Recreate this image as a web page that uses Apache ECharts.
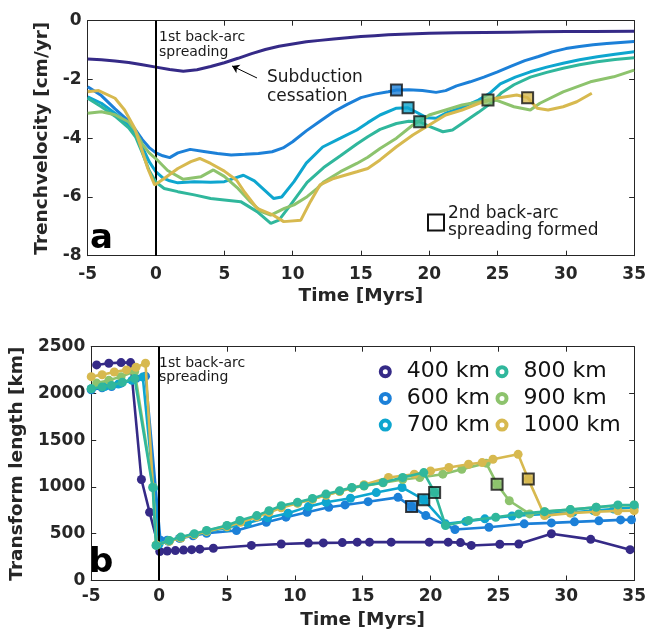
<!DOCTYPE html>
<html><head><meta charset="utf-8">
<script src="https://cdn.jsdelivr.net/npm/echarts@6/dist/echarts.min.js"></script>
<style>html,body{margin:0;padding:0;background:#fff}#c{width:649px;height:631px}</style>
</head><body><div id="c"></div>
<script>
// ---------- DATA ----------
const seriesNames = ['400 km','600 km','700 km','800 km','900 km','1000 km'];
const colors = ['#352a87','#1c80d8','#0ea6cf','#30b79c','#8dc36d','#d7b94f'];
const xTicks = { min: -5, max: 35, interval: 5 };

// Panel a: trench velocity [cm/yr] vs time [Myrs]
const vel400 = [[-5,-1.30],[-4,-1.33],[-3,-1.37],[-2,-1.42],[-1,-1.50],[0,-1.58],[1,-1.66],[2,-1.72],[3,-1.67],[4,-1.56],[5,-1.43],[6,-1.28],[7,-1.12],[8,-0.98],[9,-0.87],[10,-0.79],[11,-0.72],[12,-0.67],[13,-0.62],[14,-0.58],[15,-0.54],[16,-0.51],[17,-0.48],[18,-0.46],[20,-0.43],[22,-0.41],[24,-0.40],[26,-0.39],[28,-0.38],[30,-0.37],[32,-0.37],[35,-0.36]];
const vel600 = [[-5,-2.25],[-4,-2.55],[-3,-3.0],[-2,-3.42],[-1.5,-3.72],[-1,-4.05],[-0.5,-4.32],[0,-4.5],[0.5,-4.6],[1,-4.66],[1.6,-4.5],[2.5,-4.38],[3.5,-4.45],[4.5,-4.52],[5.5,-4.57],[6.5,-4.55],[7.5,-4.52],[8.5,-4.46],[9.3,-4.33],[10,-4.12],[11,-3.75],[12,-3.42],[13,-3.1],[14,-2.85],[15,-2.62],[16,-2.5],[17,-2.42],[17.6,-2.36],[18.5,-2.35],[19.5,-2.38],[20.5,-2.44],[21.2,-2.38],[22,-2.22],[23,-2.08],[24,-1.92],[25,-1.74],[26,-1.55],[27,-1.36],[28,-1.22],[29,-1.06],[30,-0.95],[31,-0.88],[32,-0.82],[33,-0.78],[34,-0.74],[35,-0.71]];
const vel700 = [[-5,-2.59],[-4,-2.81],[-3,-3.15],[-2,-3.55],[-1.5,-3.85],[-1,-4.3],[-0.5,-4.8],[0,-5.15],[0.5,-5.35],[1,-5.45],[1.6,-5.52],[2.8,-5.48],[4,-5.5],[5,-5.48],[5.7,-5.37],[6.4,-5.26],[7.2,-5.45],[7.9,-5.75],[8.6,-6.05],[9.2,-6.0],[10.1,-5.48],[11,-4.85],[12.2,-4.3],[13.5,-4.0],[14.7,-3.72],[15.5,-3.47],[16.4,-3.21],[17.6,-2.98],[18.4,-2.96],[19,-3.1],[19.8,-3.3],[20.5,-3.32],[21.2,-3.15],[22.4,-2.95],[23.6,-2.7],[24.4,-2.48],[25.2,-2.15],[26.3,-1.92],[27.4,-1.74],[28.6,-1.58],[29.8,-1.45],[31,-1.33],[32.3,-1.23],[33.6,-1.14],[35,-1.06]];
const vel800 = [[-5,-2.64],[-4,-2.93],[-3,-3.25],[-2,-3.65],[-1.5,-3.95],[-1,-4.5],[-0.5,-5.1],[0,-5.5],[0.6,-5.71],[1.6,-5.82],[2.8,-5.93],[4,-6.05],[5,-6.1],[6.2,-6.16],[7.4,-6.5],[8.4,-6.9],[9.0,-6.79],[9.85,-6.27],[11.06,-5.5],[12.27,-5.0],[13.5,-4.6],[14.7,-4.2],[15.5,-3.95],[16.4,-3.7],[17.6,-3.5],[18.5,-3.42],[19.3,-3.44],[20,-3.6],[21,-3.78],[21.7,-3.72],[22.4,-3.5],[23.6,-3.12],[24.6,-2.78],[25.3,-2.45],[26.2,-2.18],[27.4,-1.92],[28.6,-1.76],[29.8,-1.62],[31,-1.5],[32.3,-1.40],[33.6,-1.32],[35,-1.26]];
const vel900 = [[-5,-3.15],[-4,-3.1],[-3,-3.2],[-2,-3.45],[-1.5,-3.75],[-1,-4.2],[-0.5,-4.5],[0,-4.7],[0.85,-5.1],[2.0,-5.4],[3.3,-5.31],[4.2,-5.08],[5,-5.3],[6,-5.71],[6.9,-6.16],[7.7,-6.5],[8.4,-6.62],[9.4,-6.39],[10.1,-6.27],[11.06,-5.99],[11.8,-5.71],[12.3,-5.48],[13.5,-5.14],[14.7,-4.86],[15.5,-4.65],[16.4,-4.35],[17.6,-4.0],[18.8,-3.55],[20,-3.21],[21.2,-3.04],[22.4,-2.87],[23.4,-2.78],[24.3,-2.70],[25,-2.72],[26.2,-2.93],[27.4,-3.04],[28.1,-2.81],[29.8,-2.42],[31.8,-2.08],[33.5,-1.91],[35,-1.68]];
const vel1000 = [[-5,-2.42],[-4.2,-2.38],[-3,-2.64],[-2.3,-3.04],[-1.56,-3.66],[-1.07,-4.35],[-0.6,-5.03],[-0.1,-5.59],[0.6,-5.37],[1.6,-5.03],[2.55,-4.8],[3.2,-4.69],[4,-4.86],[5,-5.12],[5.9,-5.43],[6.5,-5.85],[7.4,-6.39],[8.5,-6.6],[9.35,-6.84],[10.6,-6.79],[11.3,-6.16],[12.0,-5.59],[13.0,-5.37],[14.7,-5.14],[15.5,-5.03],[16.4,-4.74],[17.6,-4.29],[18.8,-3.89],[20,-3.55],[21.2,-3.21],[22.4,-3.04],[23.65,-2.81],[24.9,-2.64],[26.4,-2.53],[27.2,-2.62],[27.9,-2.98],[28.7,-3.04],[29.8,-2.93],[30.8,-2.76],[31.9,-2.47]];

// 2nd back-arc spreading formed (squares), series 600..1000
const sqTopTime = [17.6, 18.45, 19.3, 24.3, 27.2];
const sqTopVel  = [-2.36, -2.96, -3.44, -2.70, -2.62];
const sqBotTime = [18.6, 19.5, 20.3, 24.9, 27.2];
const sqBotLen  = [790, 864, 942, 1030, 1084];

// Panel b: transform length [km] vs time [Myrs]
const len400 = [[-4.6,2305],[-3.7,2323],[-2.8,2330],[-2.1,2330],[-1.3,1080],[-0.7,730],[0.05,310],[0.6,315],[1.2,320],[1.8,325],[2.4,330],[3.0,335],[4.0,345],[6.8,375],[9.0,390],[11.0,400],[12.1,402],[13.5,405],[14.6,410],[15.5,410],[17.1,410],[19.9,410],[21.3,410],[22.2,405],[23.0,375],[25.1,388],[26.5,390],[28.9,500],[31.8,440],[34.7,330]];
const len600 = [[-5,2040],[-4.2,2060],[-3.5,2075],[-2.8,2110],[-1.7,2160],[-1.0,2185],[0.1,430],[0.6,430],[1.5,450],[2.5,478],[3.5,505],[5.7,534],[7.9,623],[9.35,677],[10.9,730],[12.5,783],[13.7,808],[15.4,843],[17.6,889],[18.6,790],[19.65,694],[21.8,545],[24.3,570],[26.9,606],[28.9,616],[30.6,627],[32.4,638],[34.0,648],[34.8,650]];
const len700 = [[-5,2050],[-4,2075],[-3,2100],[-2,2140],[-1.2,2175],[-0.4,990],[0,390],[0.7,420],[1.6,455],[2.6,490],[3.5,520],[5,565],[6.5,615],[8,670],[9.5,720],[11,790],[12.3,836],[14.1,880],[16,940],[17.9,995],[19.5,864],[21.1,606],[22.6,630],[24,659],[26,690],[28.6,712],[30.5,730],[32,747],[33.5,765],[35,783]];
const len800 = [[-5,2050],[-4.2,2070],[-3.5,2085],[-2.7,2120],[-1.8,2160],[-0.47,995],[-0.23,375],[0.75,428],[1.6,464],[2.6,500],[3.5,535],[5.0,588],[5.95,641],[7.2,694],[8.1,747],[9.0,800],[10.2,836],[11.3,878],[12.3,924],[13.3,959],[14.2,995],[15.1,1013],[16.5,1048],[17.95,1101],[19.5,1154],[20.3,942],[21.1,588],[22.8,641],[24.8,676],[26.5,712],[28.4,736],[30.3,758],[32.2,783],[33.8,808],[35,808]];
const len900 = [[-4.6,2111],[-3.7,2140],[-2.8,2180],[-1.8,2235],[-0.45,1000],[-0.2,380],[0.75,425],[1.6,460],[2.6,495],[3.5,530],[5,585],[6,630],[7.2,688],[8.1,740],[9,790],[10.2,830],[11.3,872],[12.3,915],[13.3,955],[14.2,990],[15.1,1010],[16.5,1045],[17.95,1080],[19.2,1101],[20.9,1137],[22.3,1190],[24.1,1255],[24.9,1030],[25.8,853],[27.3,712],[28.4,736],[30.3,758],[32.2,783],[33.8,800],[35,808]];
const len1000 = [[-5,2180],[-4.2,2200],[-3.3,2230],[-2.4,2252],[-1.7,2280],[-1.0,2323],[-0.2,380],[0.75,420],[1.6,455],[2.6,490],[3.5,525],[5,575],[6,622],[7.2,680],[8.1,728],[9,778],[10.2,825],[11.3,868],[12.3,912],[13.3,952],[14.2,990],[15.1,1025],[16.9,1101],[18.8,1137],[20,1172],[21.35,1208],[22.8,1243],[23.8,1261],[24.6,1296],[26.45,1349],[27.2,1084],[28.4,694],[30.3,720],[32.2,735],[33.8,745],[35,747]];

const velData = [vel400, vel600, vel700, vel800, vel900, vel1000];
const lenData = [len400, len600, len700, len800, len900, len1000];

// ---------- CHART ----------
const FONT = 'DejaVu Sans';
const INK = '#262626';
const chart = echarts.init(document.getElementById('c'), null, { renderer: 'canvas' });

function xAx(grid, pos, showLabel, name, nameGap, margin) {
  return {
    type: 'value', gridIndex: grid, position: pos, min: xTicks.min, max: xTicks.max, interval: xTicks.interval,
    name: name || '', nameLocation: 'middle', nameGap: nameGap || 0,
    nameTextStyle: { fontFamily: FONT, fontWeight: 'bold', fontSize: 18.5, color: INK },
    axisLine: { show: true, onZero: false, lineStyle: { color: INK, width: 1 } },
    axisTick: { show: true, inside: true, length: 5, lineStyle: { color: INK } },
    axisLabel: { show: showLabel, fontFamily: FONT, fontWeight: 'bold', fontSize: 17, color: INK, margin: margin || 8,
      formatter: v => String(v) },
    splitLine: { show: false }
  };
}
function yAx(grid, pos, showLabel, min, max, interval, name, nameGap) {
  return {
    type: 'value', gridIndex: grid, position: pos, min: min, max: max, interval: interval,
    name: name || '', nameLocation: 'middle', nameGap: nameGap || 0, nameRotate: 90,
    nameTextStyle: { fontFamily: FONT, fontWeight: 'bold', fontSize: 18.5, color: INK },
    axisLine: { show: true, onZero: false, lineStyle: { color: INK, width: 1 } },
    axisTick: { show: true, inside: true, length: 5, lineStyle: { color: INK } },
    axisLabel: { show: showLabel, fontFamily: FONT, fontWeight: 'bold', fontSize: 17, color: INK, margin: 6,
      formatter: v => String(v) },
    splitLine: { show: false }
  };
}

const series = [];
// top panel lines
velData.forEach((d, i) => {
  series.push({
    name: seriesNames[i], type: 'line', xAxisIndex: 0, yAxisIndex: 0, data: d,
    showSymbol: false, symbol: 'none', lineStyle: { width: 3, color: colors[i] },
    itemStyle: { color: colors[i] }, z: 2 + i
  });
});
// arrow "Subduction cessation"
series[0].markLine = {
  silent: true, symbol: ['none', 'arrow'], symbolSize: 7, label: { show: false },
  lineStyle: { color: '#000', width: 1, type: 'solid' },
  data: [[{ coord: [7.39, -1.95] }, { coord: [5.57, -1.54] }]]
};
series[5].markLine = {
  silent: true, symbol: 'none', label: { show: false },
  lineStyle: { color: '#000', width: 2, type: 'solid' }, data: [{ xAxis: 0 }]
};
// top squares
series.push({
  name: 'sqTop', type: 'scatter', xAxisIndex: 0, yAxisIndex: 0, symbol: 'rect', symbolSize: 11, z: 20,
  data: sqTopTime.map((t, k) => ({ value: [t, sqTopVel[k]], itemStyle: { color: colors[k + 1], borderColor: '#111', borderWidth: 2 } }))
});
// bottom panel lines (draw order with teal on top)
const botOrder = [0, 1, 2, 4, 5, 3];
botOrder.forEach((i, k) => {
  series.push({
    name: seriesNames[i], type: 'line', xAxisIndex: 2, yAxisIndex: 2, data: lenData[i],
    symbol: 'circle', symbolSize: 9, showSymbol: true,
    lineStyle: { width: 2.6, color: colors[i] }, itemStyle: { color: colors[i] }, z: 2 + k,
    markLine: (k === botOrder.length - 1) ? {
      silent: true, symbol: 'none', label: { show: false },
      lineStyle: { color: '#000', width: 2, type: 'solid' }, data: [{ xAxis: 0 }]
    } : undefined
  });
});
series.push({
  name: 'sqBot', type: 'scatter', xAxisIndex: 2, yAxisIndex: 2, symbol: 'rect', symbolSize: 11, z: 20,
  data: sqBotTime.map((t, k) => ({ value: [t, sqBotLen[k]], itemStyle: { color: colors[k + 1], borderColor: '#111', borderWidth: 2 } }))
});

function legendItems(idx) {
  return idx.map(i => ({ name: seriesNames[i], icon: 'circle',
    itemStyle: { color: '#fff', borderColor: colors[i], borderWidth: 4 } }));
}
const legendCommon = {
  orient: 'vertical', itemWidth: 9, itemHeight: 9, itemGap: 4.7, padding: 0, selectedMode: false,
  textStyle: { fontFamily: FONT, fontSize: 22, color: '#111', lineHeight: 22, padding: [0, 0, 0, 12] }
};

const option = {
  animation: false,
  textStyle: { fontFamily: FONT },
  grid: [
    { left: 87.7, top: 20.7, width: 550, height: 235 },
    { left: 87.7, top: 346.7, width: 550, height: 235.3 }
  ],
  xAxis: [
    xAx(0, 'bottom', true, 'Time [Myrs]', 31, 10),
    xAx(0, 'top', false),
    xAx(1, 'bottom', true, 'Time [Myrs]', 30.5, 8),
    xAx(1, 'top', false)
  ],
  yAxis: [
    yAx(0, 'left', true, -8, 0, 2, 'Trenchvelocity [cm/yr]', 33),
    yAx(0, 'right', false, -8, 0, 2),
    yAx(1, 'left', true, 0, 2500, 500, 'Transform length [km]', 59),
    yAx(1, 'right', false, 0, 2500, 500)
  ],
  legend: [
    Object.assign({}, legendCommon, { left: 378.8, top: 360.7, data: legendItems([0, 1, 2]) }),
    Object.assign({}, legendCommon, { left: 495.5, top: 360.7, data: legendItems([3, 4, 5]) })
  ],
  graphic: [
    { type: 'text', left: 159, top: 30.5, style: { text: '1st back-arc\nspreading', fontFamily: FONT, fontSize: 14, lineHeight: 14.5, fill: '#1a1a1a' } },
    { type: 'text', left: 159, top: 356, style: { text: '1st back-arc\nspreading', fontFamily: FONT, fontSize: 14, lineHeight: 14.5, fill: '#1a1a1a' } },
    { type: 'text', left: 267, top: 68.5, style: { text: 'Subduction\ncessation', fontFamily: FONT, fontSize: 17, lineHeight: 19, fill: '#1a1a1a' } },
    { type: 'rect', shape: { x: 428, y: 214.5, width: 16, height: 16 }, style: { fill: '#fff', stroke: '#111', lineWidth: 2 } },
    { type: 'text', left: 448, top: 204.5, style: { text: '2nd back-arc\nspreading formed', fontFamily: FONT, fontSize: 17, lineHeight: 17.5, fill: '#1a1a1a' } },
    { type: 'text', x: 90, y: 239, style: { text: 'a', fontFamily: FONT, fontWeight: 'bold', fontSize: 34, fill: '#000', verticalAlign: 'middle' } },
    { type: 'text', x: 89, y: 563, style: { text: 'b', fontFamily: FONT, fontWeight: 'bold', fontSize: 34, fill: '#000', verticalAlign: 'middle' } }
  ],
  series: series
};
chart.setOption(option);
</script>
</body></html>
